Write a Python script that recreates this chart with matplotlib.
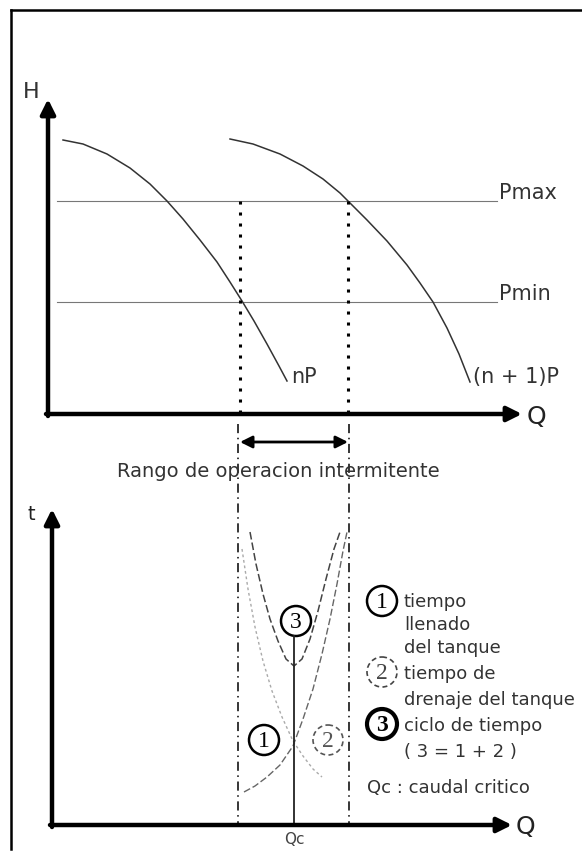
import matplotlib
matplotlib.use('Agg')
import matplotlib.pyplot as plt
from matplotlib.patches import Circle

plt.rcParams['font.family'] = ['DejaVu Sans']

# schematic, in picture units (x right, y down)
# pump curves H(Q)
nP_Q = [63, 83, 107, 130, 150, 167, 183, 200, 217, 230, 242, 254, 267, 279, 287]
nP_H = [141, 145, 155, 169, 185, 202, 220, 241, 263, 283, 302, 322, 345, 367, 382]
n1P_Q = [230, 253, 280, 303, 323, 340, 350, 367, 387, 407, 420, 433, 447, 459, 470]
n1P_H = [140, 145, 155, 167, 180, 194, 204, 221, 242, 266, 284, 303, 329, 355, 383]
pmax_H = 202
pmin_H = 303
pressure_Q = [57, 497]

# operating range limits and critical flow
range_Q = [240, 348]
Qc = 294

# time curves t(Q)
t_fill_Q = [244, 255, 267, 280, 293, 303, 313, 322, 330, 337, 343, 347]
t_fill_t = [793, 787, 778, 766, 747, 720, 690, 655, 620, 585, 552, 533]
t_drain_Q = [242, 248, 255, 263, 272, 282, 293, 303, 313, 322]
t_drain_t = [550, 590, 628, 662, 692, 718, 742, 757, 770, 778]
t_cycle_Q = [250, 256, 263, 270, 278, 286, 294, 302, 310, 318, 326, 334, 340]
t_cycle_t = [533, 565, 595, 620, 642, 660, 667, 660, 640, 612, 580, 550, 533]

legend_lines = ['tiempo', 'llenado', 'del tanque', 'tiempo de',
                'drenaje del tanque', 'ciclo de tiempo', '( 3 = 1 + 2 )']
legend_y = [602, 625, 648, 674, 700, 726, 752]

fig = plt.figure(figsize=(5.82, 8.54), dpi=100)
ax = fig.add_axes([0, 0, 1, 1])
ax.set_xlim(0, 582)
ax.set_ylim(854, 0)
ax.axis('off')

# frame
ax.plot([11, 11], [11, 850], color='black', lw=1.8)
ax.plot([11, 582], [11, 11], color='black', lw=1.8)

arrow = dict(arrowstyle='-|>', lw=3.2, color='black', mutation_scale=22,
             shrinkA=0, shrinkB=0)

# ---- upper chart: H vs Q
ax.annotate('', xy=(48, 100), xytext=(48, 417), arrowprops=arrow)
ax.annotate('', xy=(522, 415), xytext=(46, 415), arrowprops=arrow)
ax.text(31, 92, 'H', fontsize=16, ha='center', va='center', color='#333')
ax.text(527, 417, 'Q', fontsize=18, va='center', color='#222')

ax.plot(pressure_Q, [pmax_H, pmax_H], color='#777', lw=0.8)
ax.plot(pressure_Q, [pmin_H, pmin_H], color='#777', lw=0.8)
ax.text(499, pmax_H - 9, 'Pmax', fontsize=15, va='center', color='#333')
ax.text(499, pmin_H - 9, 'Pmin', fontsize=15, va='center', color='#333')

ax.plot(nP_Q, nP_H, color='#333', lw=1.1)
ax.plot(n1P_Q, n1P_H, color='#333', lw=1.1)
ax.text(291, 377, 'nP', fontsize=15, va='center', color='#333')
ax.text(473, 377, '(n + 1)P', fontsize=15, va='center', color='#333')

for q in range_Q:
    ax.plot([q, q], [pmax_H, 418], color='black', lw=2.2,
            linestyle=(0, (1, 2.6)))
ax.plot([238, 238], [425, 826], color='black', lw=1.1,
        linestyle=(0, (6, 3, 1, 3)))
ax.plot([349, 349], [425, 826], color='black', lw=1.1,
        linestyle=(0, (6, 3, 1, 3)))

ax.annotate('', xy=(range_Q[1], 443), xytext=(range_Q[0], 443),
            arrowprops=dict(arrowstyle='<|-|>', lw=2, color='black',
                            mutation_scale=18, shrinkA=0, shrinkB=0))
ax.text(278, 472, 'Rango de operacion intermitente', fontsize=14,
        ha='center', va='center', color='#333')

# ---- lower chart: t vs Q
ax.annotate('', xy=(52, 510), xytext=(52, 828), arrowprops=arrow)
ax.annotate('', xy=(512, 826), xytext=(50, 826), arrowprops=arrow)
ax.text(31, 515, 't', fontsize=14, ha='center', va='center', color='#222')
ax.text(516, 827, 'Q', fontsize=18, va='center', color='#222')

ax.plot(t_fill_Q, t_fill_t, color='#666', lw=1.0, linestyle=(0, (5, 2)))
ax.plot(t_drain_Q, t_drain_t, color='#aaa', lw=1.0, linestyle=(0, (2, 2)))
ax.plot(t_cycle_Q, t_cycle_t, color='#444', lw=1.1, linestyle=(0, (5, 2)))

ax.plot([Qc, Qc], [637, 826], color='#222', lw=1.3)
ax.text(Qc, 840, 'Qc', fontsize=11, ha='center', va='center', color='#444')


def tag(x, y, label, lw=1.8, ls='-', color='black', weight='normal'):
    ax.add_patch(Circle((x, y), 15, fill=False, lw=lw, ls=ls, ec=color))
    ax.text(x, y + 1, label, fontsize=17, ha='center', va='center',
            color=color, family='Liberation Serif', weight=weight)


tag(296, 622, '3')
tag(264, 741, '1')
tag(328, 741, '2', lw=1.2, ls=(0, (3, 2)), color='#555')

# legend
tag(382, 602, '1')
tag(382, 673, '2', lw=1.2, ls=(0, (3, 2)), color='#444')
tag(382, 725, '3', lw=3, weight='bold')
for s, y in zip(legend_lines, legend_y):
    ax.text(404, y, s, fontsize=13, va='center', color='#333')
ax.text(367, 788, 'Qc : caudal critico', fontsize=13, va='center',
        color='#333')

fig.savefig('out.png', dpi=100)
